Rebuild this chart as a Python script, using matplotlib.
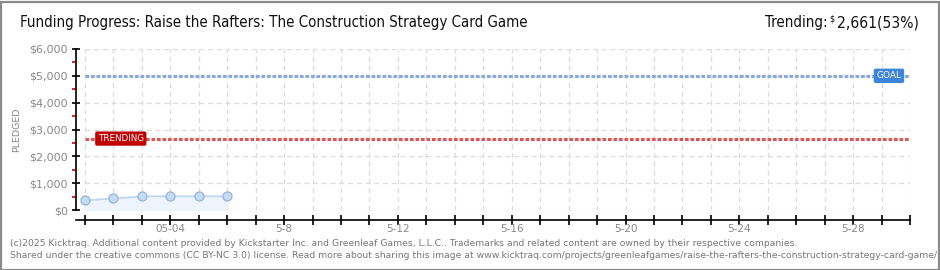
import matplotlib
matplotlib.use("Agg")
import matplotlib.pyplot as plt
from matplotlib.patches import Rectangle

# ---- data ----
days = [0, 1, 2, 3, 4, 5]            # day index from 5/1
pledged = [360, 430, 510, 510, 510, 510]
goal = 5000
trending = 2661
n_days = 29
xtick_pos = [3, 7, 11, 15, 19, 23, 27]
xtick_labels = ["05-04", "5-8", "5-12", "5-16", "5-20", "5-24", "5-28"]
ytick_vals = [0, 1000, 2000, 3000, 4000, 5000, 6000]
ytick_labels = ["$0", "$1,000", "$2,000", "$3,000", "$4,000", "$5,000", "$6,000"]
title = "Funding Progress: Raise the Rafters: The Construction Strategy Card Game"
trend_text = "2,661(53%)"
footer1 = ("(c)2025 Kicktraq. Additional content provided by Kickstarter Inc. and Greenleaf Games, L.L.C.. "
           "Trademarks and related content are owned by their respective companies.")
footer2 = ("Shared under the creative commons (CC BY-NC 3.0) license. Read more about sharing this image at "
           "www.kicktraq.com/projects/greenleafgames/raise-the-rafters-the-construction-strategy-card-game/")

W, H = 940, 270
fig = plt.figure(figsize=(W / 100, H / 100), dpi=100)
fig.patch.set_facecolor("white")

# border
fig.add_artist(Rectangle((0.5 / W, 0.5 / H), 1 - 2 / W, 1 - 2 / H, transform=fig.transFigure,
                         fill=False, edgecolor="#8a8a8a", linewidth=1.6))

# axes: left at pixel 76, right 910; top 49 (6000), bottom 210 (0)
left_px, right_px, top_px, bot_px = 76, 910, 49, 210
ax = fig.add_axes([left_px / W, 1 - bot_px / H, (right_px - left_px) / W, (bot_px - top_px) / H])
px_per_day = (910 - 85) / n_days
x0 = -(85 - 76) / px_per_day
ax.set_xlim(x0, n_days)
ax.set_ylim(0, 6000)
ax.patch.set_alpha(0)

for s in ["top", "right"]:
    ax.spines[s].set_visible(False)
ax.spines["bottom"].set_position(("outward", 7.2))
ax.spines["left"].set_linewidth(1.2)
ax.spines["bottom"].set_linewidth(1.2)

# grid
grid_kw = dict(color="#dcdcdc", linewidth=0.9, linestyles=(0, (4, 3)), zorder=0)
ax.hlines(ytick_vals, 0, n_days, **grid_kw)
ax.vlines(range(0, n_days + 1), 0, 6000, **grid_kw)

# ticks
ax.set_xticks(range(0, n_days + 1))
ax.set_xticklabels(["" for _ in range(n_days + 1)])
ax.tick_params(axis="x", direction="inout", length=7, width=1.2, color="black")
for p, lab in zip(xtick_pos, xtick_labels):
    ax.text(p, -0.085, lab, transform=ax.get_xaxis_transform(), ha="center", va="top",
            fontsize=7.5, color="#888888")
ax.set_yticks(ytick_vals)
ax.set_yticklabels(ytick_labels, fontsize=8, color="#888888")
ax.tick_params(axis="y", direction="inout", length=6, width=1.2, color="black", pad=3)
ax.set_yticks([500, 1500, 2500, 3500, 4500, 5500], minor=True)
ax.tick_params(axis="y", which="minor", direction="out", length=3, width=1.2, color="#dd0000")
ax.set_ylabel("PLEDGED", fontsize=6.8, color="#888888")
ax.yaxis.set_label_coords(-(76 - 21) / (910 - 76), 0.5)

# goal & trending lines
ax.plot([0, n_days], [goal, goal], color="#88aadd", linewidth=2.2, linestyle=(0, (1.2, 0.6)), zorder=2)
ax.plot([0, n_days], [trending, trending], color="#dd5555", linewidth=2.2, linestyle=(0, (1.2, 0.6)), zorder=2)

# labels on lines
ax.text(0.45, trending, "TRENDING", ha="left", va="center", fontsize=6.3, color="white",
        zorder=5,
        bbox=dict(boxstyle="round,pad=0.3,rounding_size=0.2", fc="#c00000", ec="none"))
ax.text(28.7, goal, "GOAL", ha="right", va="center", fontsize=6.5, color="white",
        zorder=5,
        bbox=dict(boxstyle="round,pad=0.3,rounding_size=0.2", fc="#3d85d8", ec="none"))

# pledged series
ax.fill_between(days, pledged, 0, color="#eef4fc", zorder=1)
ax.plot(days, pledged, color="#b8d4f0", linewidth=1.2, zorder=3)
ax.plot(days, pledged, "o", markersize=6.5, markerfacecolor="#c4dcf8", markeredgecolor="#98b4d4",
        markeredgewidth=0.9, zorder=4)

# title & trending header
fig.text(20 / W, 1 - 23 / H, title, fontsize=10.8, color="#111111", ha="left", va="center",
         fontstretch="condensed")
fig.text(919 / W, 1 - 23 / H, trend_text, fontsize=11.2, color="#111111", ha="right", va="center",
         fontstretch="condensed")
fig.text(835 / W, 1 - 19 / H, "$", fontsize=6.5, color="#111111", ha="right", va="center",
         fontstretch="condensed")
fig.text(765 / W, 1 - 23 / H, "Trending:", fontsize=10.8, color="#111111", ha="left", va="center",
         fontstretch="condensed")

# footer
fig.text(10 / W, 1 - 243 / H, footer1, fontsize=6.65, color="#777777", ha="left", va="center")
fig.text(10 / W, 1 - 256 / H, footer2, fontsize=6.65, color="#777777", ha="left", va="center")

fig.savefig("out.png", dpi=100, facecolor="white")
